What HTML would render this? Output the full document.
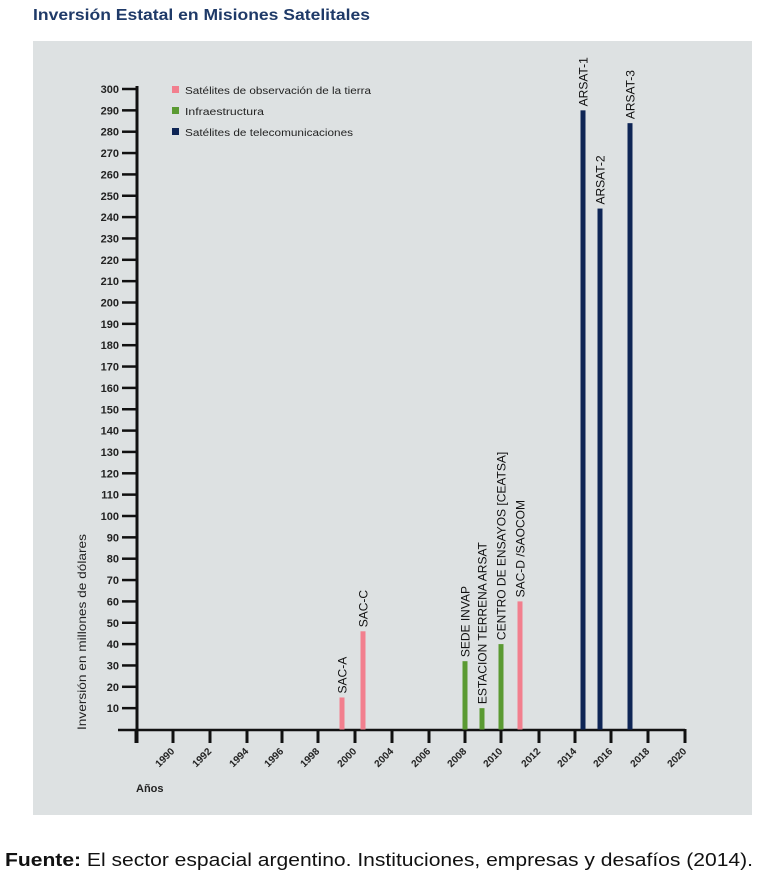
<!DOCTYPE html>
<html><head><meta charset="utf-8"><style>
html,body{margin:0;padding:0;background:#fff;width:758px;height:876px;overflow:hidden}
svg{display:block}
</style></head><body>
<svg width="758" height="876" xmlns="http://www.w3.org/2000/svg" font-family="Liberation Sans, sans-serif">
<text x="33" y="20" font-size="16" font-weight="bold" fill="#1f3a68" textLength="337" lengthAdjust="spacingAndGlyphs">Inversión Estatal en Misiones Satelitales</text>
<rect x="33" y="41" width="719" height="774" fill="#dde1e2"/>
<!-- y axis -->
<line x1="137" y1="86" x2="137" y2="743" stroke="#111" stroke-width="3"/>
<g stroke="#111" stroke-width="2.5" id="yt"></g>
<g font-size="11" font-weight="bold" fill="#222" text-anchor="end" id="yl"></g>
<!-- x axis -->
<line x1="118" y1="730" x2="685" y2="730" stroke="#111" stroke-width="2.5"/>
<g id="xt" stroke="#111" stroke-width="3"></g>
<g id="xl" font-size="10" font-weight="bold" fill="#222"></g>
<text x="136" y="792" font-size="11" font-weight="bold" fill="#222">Años</text>
<text transform="translate(86,632) rotate(-90)" font-size="12" fill="#222" text-anchor="middle" textLength="196" lengthAdjust="spacingAndGlyphs">Inversión en millones de dólares</text>
<!-- legend -->
<rect x="172" y="86" width="7" height="7" fill="#f27f8e"/>
<text x="185" y="94" font-size="10" fill="#222" textLength="186" lengthAdjust="spacingAndGlyphs">Satélites de observación de la tierra</text>
<rect x="172" y="107" width="7" height="7" fill="#5a9a32"/>
<text x="185" y="115" font-size="10" fill="#222" textLength="79" lengthAdjust="spacingAndGlyphs">Infraestructura</text>
<rect x="172" y="128" width="7" height="7" fill="#0e2555"/>
<text x="185" y="136" font-size="10" fill="#222" textLength="168" lengthAdjust="spacingAndGlyphs">Satélites de telecomunicaciones</text>
<g id="bars"></g>
<text x="5" y="866" font-size="18" fill="#111" textLength="748" lengthAdjust="spacingAndGlyphs"><tspan font-weight="bold">Fuente:</tspan> El sector espacial argentino. Instituciones, empresas y desafíos (2014).</text>
<script>
var ns="http://www.w3.org/2000/svg";
function el(p,t,a,txt){var e=document.createElementNS(ns,t);for(var k in a)e.setAttribute(k,a[k]);if(txt)e.textContent=txt;document.getElementById(p).appendChild(e);return e;}
function Y(v){return 729.5-v*2.135;}
for(var v=10;v<=300;v+=10){var y=Y(v);el('yt','line',{x1:122,y1:y,x2:137,y2:y});el('yl','text',{x:119,y:y+4},String(v));}
var xs=[136,173,210,247,282,318,355,392,429,465,501,539,575,611,648,685];
var yrs=["1990","1992","1994","1996","1998","2000","2004","2006","2008","2010","2012","2014","2016","2018","2020"];
xs.forEach(function(x){el('xt','line',{x1:x,y1:729,x2:x,y2:743});});
yrs.forEach(function(t,i){var x=xs[i+1];el('xl','text',{transform:'translate('+(x+2)+',752) rotate(-45)','text-anchor':'end'},t);});
var P="#f27f8e",G="#5a9a32",B="#0e2555";
var bars=[[342,15,P,"SAC-A"],[363,46,P,"SAC-C"],[465,32,G,"SEDE INVAP"],[482,10,G,"ESTACION TERRENA ARSAT"],[501,40,G,"CENTRO DE ENSAYOS [CEATSA]"],[520,60,P,"SAC-D /SAOCOM"],[583,290,B,"ARSAT-1"],[600,244,B,"ARSAT-2"],[630,284,B,"ARSAT-3"]];
bars.forEach(function(b){var y=Y(b[1]);el('bars','rect',{x:b[0]-2.5,y:y,width:5,height:729.5-y,fill:b[2]});
el('bars','text',{transform:'translate('+(b[0]+4.5)+','+(y-4)+') rotate(-90)','font-size':12,fill:'#111'},b[3]);});
</script>
</svg>
</body></html>
